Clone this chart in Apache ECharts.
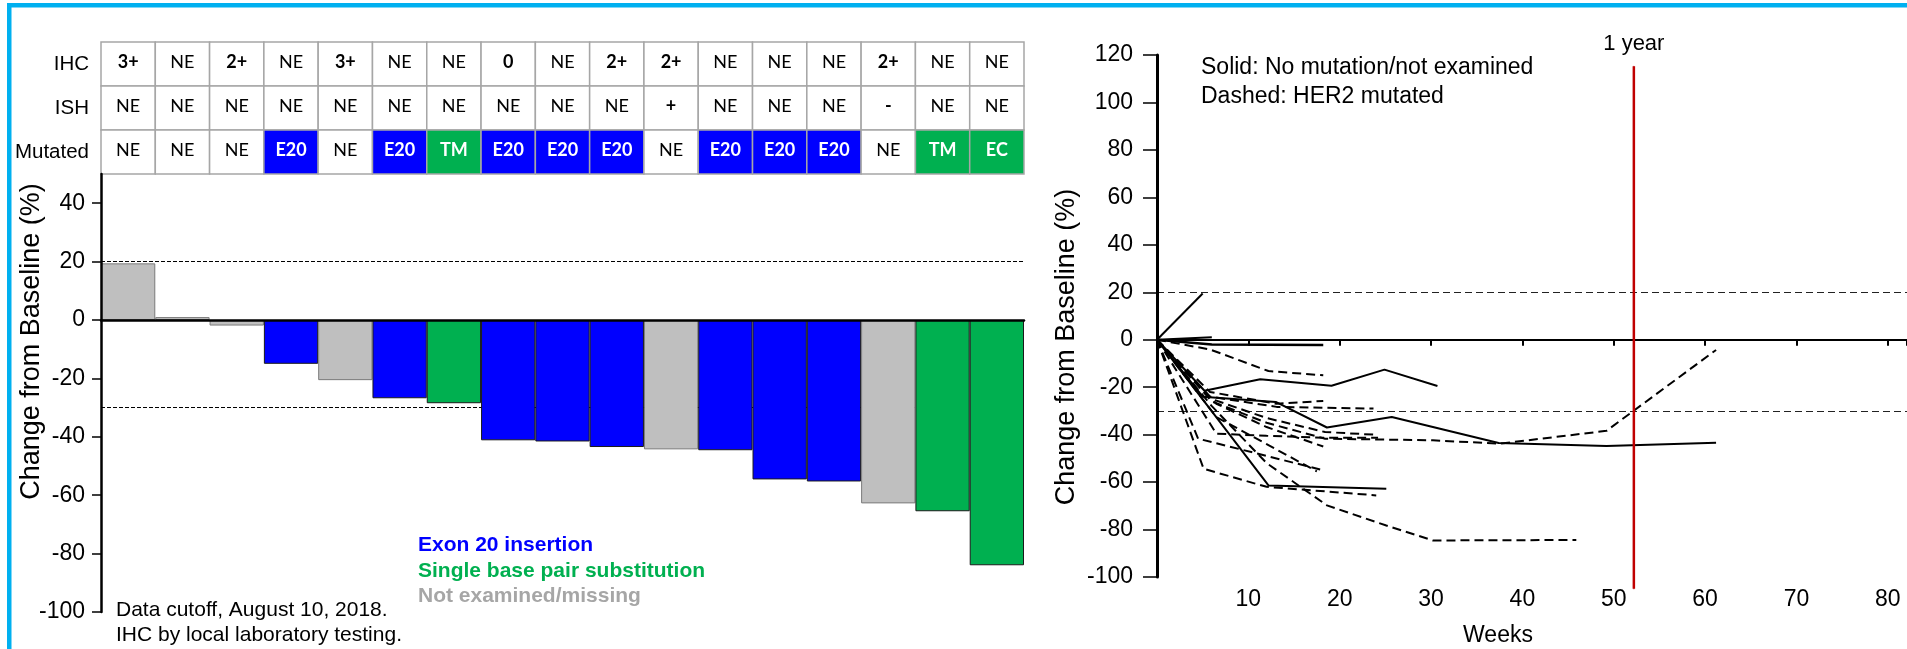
<!DOCTYPE html>
<html><head><meta charset="utf-8">
<script src="https://cdn.jsdelivr.net/npm/echarts@6/dist/echarts.min.js"></script>
<style>html,body{margin:0;padding:0;background:#fff}#c{width:1907px;height:649px}</style>
</head><body><div id="c"></div>
<script>
// ---------- data ----------
const patients = ['P1','P2','P3','P4','P5','P6','P7','P8','P9','P10','P11','P12','P13','P14','P15','P16','P17'];
const rowLabels = ['IHC', 'ISH', 'Mutated'];
const ihc     = ['3+','NE','2+','NE','3+','NE','NE','0','NE','2+','2+','NE','NE','NE','2+','NE','NE'];
const ish     = ['NE','NE','NE','NE','NE','NE','NE','NE','NE','NE','+','NE','NE','NE','-','NE','NE'];
const mutated = ['NE','NE','NE','E20','NE','E20','TM','E20','E20','E20','NE','E20','E20','E20','NE','TM','EC'];
const bestChange = [19.4, 1.0, -1.9, -15.0, -20.6, -26.8, -28.5, -41.2, -41.6, -43.5, -44.3, -44.6, -54.6, -55.3, -62.8, -65.5, -84.0];
const leftTicks = [-100, -80, -60, -40, -20, 0, 20, 40];
const leftRefLines = [20, -30];
const rightRefLines = [20, -30];
const oneYearWeek = 52.2;
const oneYearSpan = [115.3, -104.9];

// spider plot: [week, % change]
const solid1 = [[0,0],[5,19.5]];
const solid2 = [[0,0],[6,1]];
const solid3 = [[0,0],[6,-2],[18.2,-2.2]];
const solid4 = [[0,0],[5.2,-21.5],[11.3,-16.7],[19.1,-19.4],[24.9,-12.6],[30.7,-19.5]];
const solid5 = [[0,0],[5,-24],[13,-26.2],[18.6,-37],[25.7,-32.6],[37.4,-43.5],[49.2,-44.8],[61.2,-43.4]];
const solid6 = [[0,0],[12.2,-61.4],[25.1,-62.8]];
const dashed1 = [[0,0],[5.8,-4.1],[12.2,-13.2],[18.2,-15]];
const dashed2 = [[0,0],[5.8,-22],[13.1,-27],[18.2,-25.8]];
const dashed3 = [[0,0],[5.8,-24],[13.1,-28.3],[23.7,-29]];
const dashed4 = [[0,0],[6,-25],[12,-33],[18.4,-38.9],[23.7,-40]];
const dashed5 = [[0,0],[6.5,-39.6],[12,-40.5],[18.2,-41.3],[24.2,-41.3]];
const dashed6 = [[0,0],[6,-26],[12,-35],[18.4,-41.7],[30.2,-42.4],[37.5,-43.8],[49.2,-38.4],[61.2,-4.3]];
const dashed7 = [[0,0],[6.5,-27],[12,-36.8],[18.2,-45]];
const dashed8 = [[0,0],[4.5,-41.7],[18.2,-55]];
const dashed9 = [[0,0],[6.5,-32.6],[12,-44],[17.5,-55.5]];
const dashed10 = [[0,0],[5.1,-54.4],[12,-62],[24,-65.6]];
const dashed11 = [[0,0],[6,-28],[12,-52],[18.6,-69.8],[25.1,-78.3],[30.2,-84.6],[45.9,-84.4]];

const solidLines = [solid1, solid2, solid3, solid4, solid5, solid6];
const dashedLines = [dashed1, dashed2, dashed3, dashed4, dashed5, dashed6, dashed7, dashed8, dashed9, dashed10, dashed11];

// ---------- styling ----------
const FONT = "'Liberation Sans', Arial, sans-serif";
const CELLFONT = "Lato, 'Open Sans', sans-serif";
const BLUE = '#0000ff', GREEN = '#00b050', GRAY = '#bfbfbf';
const mutColor = {E20: BLUE, TM: GREEN, EC: GREEN, NE: GRAY};

const cells = [];
[ihc, ish, mutated].forEach(function (row, r) {
  row.forEach(function (v, c) {
    const colored = (r === 2 && v !== 'NE');
    cells.push({
      col: c, row: r, text: v,
      fill: colored ? mutColor[v] : '#ffffff',
      color: colored ? '#ffffff' : '#000000',
      bold: v !== 'NE'
    });
  });
});

const lineSeries = [];
solidLines.forEach(function (d, i) {
  lineSeries.push({
    type: 'line', xAxisIndex: 2, yAxisIndex: 2, data: d, symbol: 'none', silent: true, z: 3,
    lineStyle: {color: '#000', width: i === 2 ? 2.6 : 2, type: 'solid'}
  });
});
dashedLines.forEach(function (d) {
  lineSeries.push({
    type: 'line', xAxisIndex: 2, yAxisIndex: 2, data: d, symbol: 'none', silent: true, z: 3,
    lineStyle: {color: '#000', width: 2, type: [9, 5]}
  });
});
lineSeries[0].markLine = {
  silent: true, symbol: ['none', 'none'], z: 2, label: {show: false},
  lineStyle: {color: '#222', width: 1.2, type: [7, 4]},
  data: rightRefLines.map(function (v) { return {yAxis: v}; })
};

const chart = echarts.init(document.getElementById('c'), null, {renderer: 'canvas'});
const option = {
  animation: false,
  backgroundColor: '#ffffff',
  textStyle: {fontFamily: FONT},
  grid: [
    {left: 101, top: 42, width: 923, height: 132, outerBoundsMode: 'none', containLabel: false},
    {left: 101, top: 174, width: 923, height: 438, outerBoundsMode: 'none', containLabel: false},
    {left: 1157, top: 55, width: 750, height: 522, outerBoundsMode: 'none', containLabel: false}
  ],
  xAxis: [
    {gridIndex: 0, type: 'category', data: patients, axisLine: {show: false}, axisTick: {show: false}, axisLabel: {show: false}, splitLine: {show: false}},
    {gridIndex: 1, type: 'category', data: patients, z: 5,
      axisLine: {show: true, onZero: true, lineStyle: {color: '#000', width: 2.5}},
      axisTick: {show: false}, axisLabel: {show: false}, splitLine: {show: false}},
    {gridIndex: 2, type: 'value', min: 0, max: 82.1, interval: 10, position: 'bottom',
      axisLine: {show: false, onZero: false}, axisTick: {show: false}, splitLine: {show: false},
      axisLabel: {show: true, color: '#000', fontSize: 23, fontFamily: FONT, margin: 11,
        formatter: function (v) { return (v > 0 && Math.abs(v % 10) < 1e-6) ? String(v) : ''; }}},
    {gridIndex: 2, type: 'value', min: 0, max: 82.1, interval: 10, position: 'bottom', z: 4,
      axisLine: {show: true, onZero: true, lineStyle: {color: '#000', width: 2}},
      axisTick: {show: true, length: 6, lineStyle: {color: '#000', width: 2}},
      axisLabel: {show: false}, splitLine: {show: false}}
  ],
  yAxis: [
    {gridIndex: 0, type: 'category', data: rowLabels, inverse: true,
      axisLine: {show: false}, axisTick: {show: false}, splitLine: {show: false},
      axisLabel: {color: '#000', fontSize: 20.5, fontFamily: FONT, margin: 12}},
    {gridIndex: 1, type: 'value', min: -100, max: 50, interval: 20, z: 5,
      axisLine: {show: true, onZero: false, lineStyle: {color: '#000', width: 2.5}},
      axisTick: {show: true, length: 9, customValues: leftTicks, lineStyle: {color: '#000', width: 1.5}},
      axisLabel: {color: '#000', fontSize: 23, fontFamily: FONT, margin: 16, customValues: leftTicks,
        formatter: function (v) { return v === 50 ? '' : String(v); }},
      splitLine: {show: false}},
    {gridIndex: 2, type: 'value', min: -100, max: 120, interval: 20, z: 4,
      axisLine: {show: true, onZero: false, lineStyle: {color: '#000', width: 3}},
      axisTick: {show: true, length: 14, lineStyle: {color: '#000', width: 1.5}},
      axisLabel: {color: '#000', fontSize: 23, fontFamily: FONT, margin: 24},
      splitLine: {show: false}}
  ],
  series: [
    {
      type: 'custom', xAxisIndex: 0, yAxisIndex: 0, silent: true,
      data: cells.map(function (c) { return [c.col, c.row]; }),
      renderItem: function (params, api) {
        const cell = cells[params.dataIndex];
        const p = api.coord([api.value(0), api.value(1)]);
        const s = api.size([1, 1]);
        return {
          type: 'group',
          children: [
            {type: 'rect', shape: {x: p[0] - s[0] / 2, y: p[1] - s[1] / 2, width: s[0], height: s[1]},
              style: {fill: cell.fill, stroke: '#a6a6a6', lineWidth: 1.5}},
            {type: 'text', style: {text: cell.text, x: p[0], y: p[1] - 2, align: 'center', verticalAlign: 'middle',
              fill: cell.color, fontSize: 18, fontFamily: CELLFONT, fontWeight: cell.bold ? 'bold' : 'normal'}}
          ]
        };
      }
    },
    {
      type: 'bar', xAxisIndex: 1, yAxisIndex: 1, barCategoryGap: '0%', z: 2, silent: true,
      data: bestChange.map(function (v, i) {
        const col = mutColor[mutated[i]];
        return {value: v, itemStyle: {color: col, borderColor: col === GRAY ? '#7a7a7a' : '#1a1a1a', borderWidth: 1}};
      }),
      markLine: {
        silent: true, symbol: ['none', 'none'], z: 1, label: {show: false},
        lineStyle: {color: '#000', width: 1.2, type: [4, 2]},
        data: leftRefLines.map(function (v) { return {yAxis: v}; })
      }
    },
    {
      type: 'line', xAxisIndex: 2, yAxisIndex: 2, clip: false, silent: true, z: 4,
      symbol: 'circle', symbolSize: 1, showSymbol: true,
      itemStyle: {color: '#c00000'},
      lineStyle: {color: '#c00000', width: 2.5},
      data: [
        {value: [oneYearWeek, oneYearSpan[0]], label: {show: true, position: 'top', distance: 11, formatter: '1 year',
          color: '#000', fontSize: 22, fontFamily: FONT}},
        {value: [oneYearWeek, oneYearSpan[1]]}
      ]
    }
  ].concat(lineSeries),
  graphic: [
    {type: 'rect', shape: {x: 7, y: 3, width: 1900, height: 4.5}, style: {fill: '#00b0f0'}, silent: true},
    {type: 'rect', shape: {x: 7, y: 3, width: 4.5, height: 646}, style: {fill: '#00b0f0'}, silent: true},
    {type: 'text', x: 31.5, y: 341.5, rotation: Math.PI / 2, silent: true,
      style: {text: 'Change from Baseline (%)', fontSize: 27, fontFamily: FONT, fill: '#000', align: 'center', verticalAlign: 'middle'}},
    {type: 'text', x: 1067, y: 347, rotation: Math.PI / 2, silent: true,
      style: {text: 'Change from Baseline (%)', fontSize: 27, fontFamily: FONT, fill: '#000', align: 'center', verticalAlign: 'middle'}},
    {type: 'text', x: 1498, y: 636, silent: true,
      style: {text: 'Weeks', fontSize: 23, fontFamily: FONT, fill: '#000', align: 'center', verticalAlign: 'middle'}},
    {type: 'text', x: 1201, y: 68, silent: true,
      style: {text: 'Solid: No mutation/not examined', fontSize: 23, fontFamily: FONT, fill: '#000', align: 'left', verticalAlign: 'middle'}},
    {type: 'text', x: 1201, y: 97, silent: true,
      style: {text: 'Dashed: HER2 mutated', fontSize: 23, fontFamily: FONT, fill: '#000', align: 'left', verticalAlign: 'middle'}},
    {type: 'text', x: 418, y: 545, silent: true,
      style: {text: 'Exon 20 insertion', fontSize: 21, fontWeight: 'bold', fontFamily: FONT, fill: BLUE, align: 'left', verticalAlign: 'middle'}},
    {type: 'text', x: 418, y: 571, silent: true,
      style: {text: 'Single base pair substitution', fontSize: 21, fontWeight: 'bold', fontFamily: FONT, fill: GREEN, align: 'left', verticalAlign: 'middle'}},
    {type: 'text', x: 418, y: 596, silent: true,
      style: {text: 'Not examined/missing', fontSize: 21, fontWeight: 'bold', fontFamily: FONT, fill: '#a6a6a6', align: 'left', verticalAlign: 'middle'}},
    {type: 'text', x: 116, y: 610, silent: true,
      style: {text: 'Data cutoff, August 10, 2018.', fontSize: 21, fontFamily: FONT, fill: '#000', align: 'left', verticalAlign: 'middle'}},
    {type: 'text', x: 116, y: 635, silent: true,
      style: {text: 'IHC by local laboratory testing.', fontSize: 21, fontFamily: FONT, fill: '#000', align: 'left', verticalAlign: 'middle'}}
  ]
};
chart.setOption(option);
</script>
</body></html>
